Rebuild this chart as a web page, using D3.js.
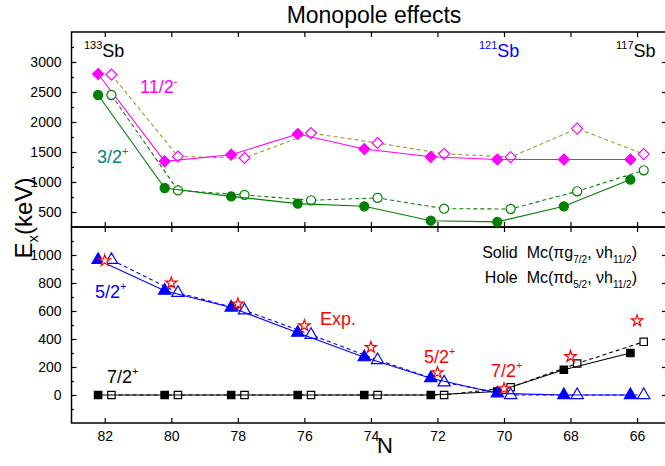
<!DOCTYPE html>
<html>
<head>
<meta charset="utf-8">
<script src="https://cdn.jsdelivr.net/npm/d3@7"></script>
<style>
  body { margin: 0; background: #fff; }
  svg { display: block; font-family: Arial, "Liberation Sans", sans-serif; }
  .tick text { font-size: 14px; fill: #000; font-family: Arial, "Liberation Sans", sans-serif; }
  .domain { display: none; }
</style>
</head>
<body>
<svg width="665" height="466"></svg>
<script>
// Monopole effects in Sb isotopes

const N = [82, 80, 78, 76, 74, 72, 70, 68, 66];

// upper panel: 11/2- and 3/2+ (solid = Mc(pi g7/2, nu h11/2), hole = Mc(pi d5/2, nu h11/2))
const e112Solid = [2800, 1345, 1455, 1800, 1550, 1420, 1375, 1375, 1375];
const e112Hole  = [2790, 1425, 1400, 1815, 1650, 1470, 1415, 1890, 1465];
const e32Solid  = [2450, 900, 760, 640, 595, 355, 335, 595, 1040];
const e32Hole   = [2450, 860, 785, 695, 735, 555, 550, 845, 1195];

// lower panel: 5/2+ and 7/2+ relative energies
const e52Solid = [965, 745, 625, 445, 270, 120, 12, 0, 0];
const e52Hole  = [965, 730, 605, 430, 250, 90, 0, 0, 0];
const e72Solid = [0, 0, 0, 0, 0, 0, 25, 180, 300];
const e72Hole  = [0, 0, 0, 0, 0, 0, 55, 225, 380];
const eExp     = [960, 800, 650, 495, 340, 160, 45, 275, 530];

const topTicks = [500, 1000, 1500, 2000, 2500, 3000];
const topMinor = [750, 1250, 1750, 2250, 2750, 3250];
const botTicks = [0, 200, 400, 600, 800, 1000];
const botMinor = [-100, 100, 300, 500, 700, 900, 1100];

const svg = d3.select('svg');
const left = 71.5, right = 667;
const topY = 32, midY = 227, botY = 423;

const x = d3.scaleLinear().domain([83, 65.1]).range([left, right]);
const yTop = d3.scaleLinear().domain([250, 3500]).range([midY, topY]);
const yBot = d3.scaleLinear().domain([-200, 1200]).range([botY, midY]);

const SOLID = 0.2, HOLE = -0.2;  // horizontal offsets so markers don't overlap

function panel(y, ticks, minor, y0, y1, showX) {
    const g = svg.append('g');
    // left axis with labels, inward ticks
    g.append('g').attr('transform', `translate(${left},0)`)
        .call(d3.axisLeft(y).tickValues(ticks).tickSize(-5).tickPadding(10).tickFormat(d3.format('d')));
    g.append('g').attr('transform', `translate(${left},0)`)
        .call(d3.axisLeft(y).tickValues(minor).tickSize(-2.5).tickFormat(''));
    g.append('g').attr('transform', `translate(${right},0)`)
        .call(d3.axisRight(y).tickValues(ticks).tickSize(-5).tickFormat(''));
    // top/bottom x ticks
    g.append('g').attr('transform', `translate(0,${y1})`)
        .call(d3.axisTop(x).tickValues(N).tickSize(-5).tickFormat(''));
    g.append('g').attr('transform', `translate(0,${y0})`)
        .call(d3.axisBottom(x).tickValues(N).tickSize(-5).tickPadding(8)
            .tickFormat(showX ? d3.format('d') : ''));
    g.selectAll('.tick line').attr('stroke', '#000').attr('stroke-width', 1.2);
    g.append('rect')
        .attr('x', left).attr('y', y1)
        .attr('width', right - left).attr('height', y0 - y1)
        .attr('fill', 'none').attr('stroke', '#000').attr('stroke-width', 1.5);
}

panel(yTop, topTicks, topMinor, midY, topY, false);
panel(yBot, botTicks, botMinor, botY, midY, true);

// square diamond (d3's diamond is too tall)
const diamond = {
    draw(ctx, size) {
        const r = Math.sqrt(size / 2);
        ctx.moveTo(0, -r); ctx.lineTo(r, 0); ctx.lineTo(0, r); ctx.lineTo(-r, 0); ctx.closePath();
    }
};

function series(y, vals, dx, color, lineColor, dashed, symbol, size, filled) {
    const pts = N.map((n, i) => [x(n + dx), y(vals[i])]);
    svg.append('path')
        .attr('d', d3.line()(pts))
        .attr('fill', 'none')
        .attr('stroke', lineColor)
        .attr('stroke-width', 1.1)
        .attr('stroke-dasharray', dashed ? '4,3' : null);
    svg.append('g').selectAll('path')
        .data(pts)
        .join('path')
        .attr('transform', d => `translate(${d[0]},${d[1]})`)
        .attr('d', d3.symbol(symbol, size))
        .attr('fill', filled ? color : '#fff')
        .attr('stroke', color)
        .attr('stroke-width', 1.2);
}

const magenta = '#ff00ff', olive = '#999933', green = '#008000', blue = '#0000ff';

series(yTop, e112Hole, HOLE, magenta, olive, true, diamond, 60, false);
series(yTop, e112Solid, SOLID, magenta, magenta, false, diamond, 60, true);
series(yTop, e32Hole, HOLE, green, green, true, d3.symbolCircle, 65, false);
series(yTop, e32Solid, SOLID, green, green, false, d3.symbolCircle, 65, true);

series(yBot, e72Hole, HOLE, '#000', '#000', true, d3.symbolSquare, 55, false);
series(yBot, e72Solid, SOLID, '#000', '#000', false, d3.symbolSquare, 55, true);
series(yBot, e52Hole, HOLE, blue, blue, true, d3.symbolTriangle, 65, false);
series(yBot, e52Solid, SOLID, blue, blue, false, d3.symbolTriangle, 65, true);

// experimental points (stars)
svg.append('g').selectAll('path')
    .data(N.map((n, i) => [x(n), yBot(eExp[i])]))
    .join('path')
    .attr('transform', d => `translate(${d[0]},${d[1]})`)
    .attr('d', d3.symbol(d3.symbolStar, 40))
    .attr('fill', '#fff')
    .attr('stroke', '#ff0000')
    .attr('stroke-width', 1.2);

// labels
function label(tx, ty, main, sup, color, size) {
    const t = svg.append('text')
        .attr('x', tx).attr('y', ty)
        .attr('fill', color)
        .style('font-size', size + 'px');
    t.append('tspan').text(main);
    t.append('tspan').attr('dy', -size * 0.45).style('font-size', (size * 0.6) + 'px').text(sup);
    return t;
}
function iso(tx, ty, mass, color) {
    const t = svg.append('text').attr('x', tx).attr('y', ty).attr('fill', color).style('font-size', '18px');
    t.append('tspan').attr('dy', -8).style('font-size', '11px').text(mass);
    t.append('tspan').attr('dy', 8).text('Sb');
}

svg.append('text')
    .attr('x', 374).attr('y', 23)
    .attr('text-anchor', 'middle')
    .style('font-size', '23px')
    .text('Monopole effects');

iso(84, 57, '133', '#000');
iso(479, 57, '121', blue);
iso(616, 57, '117', '#000');

label(140, 93, '11/2', '-', magenta, 18);
label(97, 163, '3/2', '+', '#008080', 18);
label(95, 298, '5/2', '+', blue, 18);
label(107, 383, '7/2', '+', '#000', 18);
label(320, 325, 'Exp.', '', '#ff0000', 18);
label(424, 363, '5/2', '+', '#ff0000', 18);
label(491, 377, '7/2', '+', '#ff0000', 18);

function legend(ty, word, orb) {
    const t = svg.append('text')
        .attr('x', 637).attr('y', ty)
        .attr('text-anchor', 'end')
        .style('font-size', '16px');
    t.append('tspan').text(word + '\u00a0\u00a0Mc(\u03c0' + orb[0]);
    t.append('tspan').attr('dy', 5).style('font-size', '10px').text(orb[1]);
    t.append('tspan').attr('dy', -5).text(', \u03bdh');
    t.append('tspan').attr('dy', 5).style('font-size', '10px').text('11/2');
    t.append('tspan').attr('dy', -5).text(')');
}
legend(258, 'Solid', ['g', '7/2']);
legend(283, 'Hole', ['d', '5/2']);

// axis titles
const yl = svg.append('text')
    .attr('transform', 'translate(32,218) rotate(-90)')
    .attr('text-anchor', 'middle')
    .style('font-size', '24px');
yl.append('tspan').text('E');
yl.append('tspan').attr('dy', 6).style('font-size', '15px').text('x');
yl.append('tspan').attr('dy', -6).text('(keV)');

svg.append('text')
    .attr('x', 385).attr('y', 453)
    .attr('text-anchor', 'middle')
    .style('font-size', '22px')
    .text('N');
</script>
</body>
</html>
